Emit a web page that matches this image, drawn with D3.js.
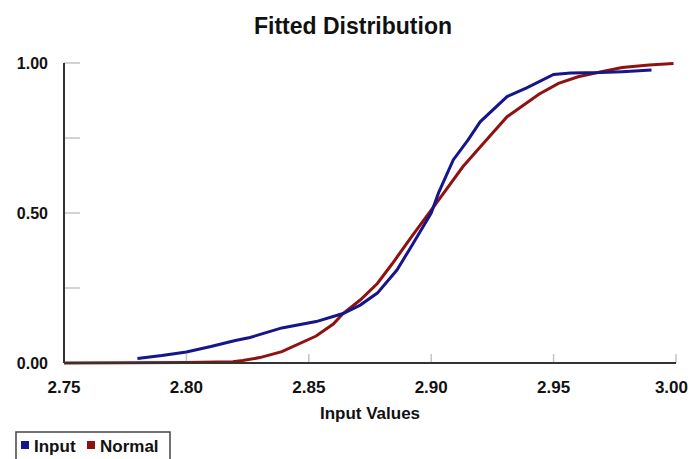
<!DOCTYPE html>
<html>
<head>
<meta charset="utf-8">
<script src="https://cdn.jsdelivr.net/npm/d3@7"></script>
<style>
  body { margin: 0; background: #fff; }
  text { font-family: "Liberation Sans", Arial, sans-serif; font-weight: bold; fill: #111; }
</style>
</head>
<body>
<div class="chart"></div>
<script>
var svgWidth = 691;
var svgHeight = 459;

var margin = { top: 63, right: 15, bottom: 96, left: 64 };
var width = svgWidth - margin.left - margin.right;
var height = svgHeight - margin.top - margin.bottom;

// Data
var inputX = [2.780, 2.790, 2.800, 2.810, 2.820, 2.826, 2.839, 2.853, 2.864, 2.871, 2.878, 2.886,
  2.892, 2.900, 2.903, 2.909, 2.915, 2.920, 2.931, 2.939, 2.950, 2.957, 2.969, 2.978, 2.990];
var inputY = [0.015, 0.025, 0.037, 0.055, 0.075, 0.085, 0.117, 0.138, 0.165, 0.193, 0.233, 0.310,
  0.390, 0.500, 0.567, 0.677, 0.743, 0.804, 0.888, 0.917, 0.962, 0.967, 0.968, 0.971, 0.977];

var normalX = [2.750, 2.800, 2.819, 2.823, 2.830, 2.839, 2.853, 2.860, 2.864, 2.871, 2.878, 2.884,
  2.892, 2.903, 2.913, 2.922, 2.931, 2.944, 2.952, 2.960, 2.969, 2.978, 2.989, 2.999];
var normalY = [0.000, 0.002, 0.004, 0.008, 0.018, 0.038, 0.090, 0.130, 0.165, 0.210, 0.265, 0.330,
  0.421, 0.543, 0.655, 0.738, 0.821, 0.896, 0.932, 0.954, 0.970, 0.985, 0.993, 0.998];

var xTicks = [2.75, 2.80, 2.85, 2.90, 2.95, 3.00];
var yTicks = [0, 0.5, 1];
var yMinorTicks = [0.25, 0.75];

var seriesNames = ["Input", "Normal"];
var seriesColors = ["#15158c", "#8e1212"];

var svg = d3.select(".chart")
  .append("svg")
  .attr("width", svgWidth)
  .attr("height", svgHeight);

var chartGroup = svg.append("g")
  .attr("transform", `translate(${margin.left}, ${margin.top})`);

var xScale = d3.scaleLinear().domain([2.75, 3.0]).range([0, width]);
var yScale = d3.scaleLinear().domain([0, 1]).range([height, 0]);

// gridline-style ticks inside the plot
chartGroup.selectAll(".ytick")
  .data(yTicks.concat(yMinorTicks))
  .enter()
  .append("line")
  .attr("x1", 0).attr("x2", 16)
  .attr("y1", d => yScale(d)).attr("y2", d => yScale(d))
  .attr("stroke", "#c4c4c4").attr("stroke-width", 1.5);

chartGroup.selectAll(".xtick")
  .data(xTicks)
  .enter()
  .append("line")
  .attr("x1", d => xScale(d)).attr("x2", d => xScale(d))
  .attr("y1", height).attr("y2", height - 9)
  .attr("stroke", "#c4c4c4").attr("stroke-width", 1.5);

// tick labels (last one pulled in so it stays inside the window)
chartGroup.selectAll(".xlabel")
  .data(xTicks)
  .enter()
  .append("text")
  .attr("x", (d, i) => i === xTicks.length - 1 ? xScale(d) + 12 : xScale(d))
  .attr("y", height + 30)
  .attr("text-anchor", (d, i) => i === xTicks.length - 1 ? "end" : "middle")
  .style("font-size", "17px")
  .text(d => d3.format(".2f")(d));

chartGroup.selectAll(".ylabel")
  .data(yTicks)
  .enter()
  .append("text")
  .attr("x", -16)
  .attr("y", d => yScale(d) + 6)
  .attr("text-anchor", "end")
  .style("font-size", "16px")
  .text(d => d3.format(".2f")(d));

// lines
var line = d3.line()
  .x(d => xScale(d[0]))
  .y(d => yScale(d[1]));

var inputData = d3.zip(inputX, inputY);
var normalData = d3.zip(normalX, normalY);

chartGroup.append("path")
  .datum(normalData)
  .attr("d", line)
  .attr("fill", "none")
  .attr("stroke", seriesColors[1])
  .attr("stroke-width", 3);

chartGroup.append("path")
  .datum(inputData)
  .attr("d", line)
  .attr("fill", "none")
  .attr("stroke", seriesColors[0])
  .attr("stroke-width", 3);

// axes lines
chartGroup.append("line")
  .attr("x1", 0).attr("x2", 0).attr("y1", 0).attr("y2", height)
  .attr("stroke", "#333").attr("stroke-width", 2);
chartGroup.append("line")
  .attr("x1", 0).attr("x2", width).attr("y1", height).attr("y2", height)
  .attr("stroke", "#333").attr("stroke-width", 2);

// title and axis label
svg.append("text")
  .attr("x", 353)
  .attr("y", 34)
  .attr("text-anchor", "middle")
  .style("font-size", "23px")
  .text("Fitted Distribution");

chartGroup.append("text")
  .attr("x", width / 2)
  .attr("y", height + 56)
  .attr("text-anchor", "middle")
  .style("font-size", "17px")
  .text("Input Values");

// legend
var legend = svg.append("g").attr("transform", "translate(16, 432)");
legend.append("rect")
  .attr("x", 0).attr("y", 0).attr("width", 154).attr("height", 40)
  .attr("fill", "#fff").attr("stroke", "#444").attr("stroke-width", 1.5);

var legendX = [5, 71];
seriesNames.forEach(function(name, i) {
  legend.append("rect")
    .attr("x", legendX[i]).attr("y", 9)
    .attr("width", 8).attr("height", 8)
    .attr("fill", seriesColors[i]);
  legend.append("text")
    .attr("x", legendX[i] + 13)
    .attr("y", 20)
    .style("font-size", "17px")
    .text(name);
});
</script>
</body>
</html>
